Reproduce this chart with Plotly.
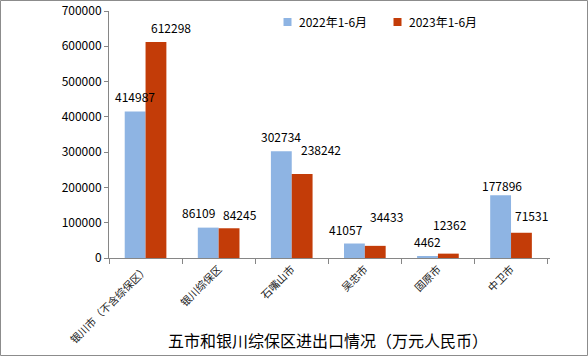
import plotly.graph_objects as go

categories = ["银川市（不含综保区）", "银川综保区", "石嘴山市", "吴忠市", "固原市", "中卫市"]
series_2022 = [414987, 86109, 302734, 41057, 4462, 177896]
series_2023 = [612298, 84245, 238242, 34433, 12362, 71531]
series_names = ["2022年1-6月", "2023年1-6月"]
y_ticks = [0, 100000, 200000, 300000, 400000, 500000, 600000, 700000]
title_text = "五市和银川综保区进出口情况（万元人民币）"

# label nudges (px) as placed in the original chart: (dx, dy above bar top)
nudge_2022 = [(0, 15), (-10, 15), (0, 15), (-8, 14), (0, 15), (1, 10)]
nudge_2023 = [(15, 14), (11, 14), (19, 24), (11, 29), (2, 29), (10, 17)]

FONT = "Noto Sans CJK SC, DejaVu Sans, sans-serif"
COLORS = ["#8EB4E3", "#C33C08"]

L, R, T, B = 109, 38, 11, 98
W, H = 588, 356
pw, ph = W - L - R, H - T - B
cat_w = pw / len(categories)
bar_w = cat_w * (1 - 0.43) / 2


def px_x(px):
    return (px - L) / pw


def px_y(py):
    return (T + ph - py) / ph


fig = go.Figure()
for name, vals, col in zip(series_names, [series_2022, series_2023], COLORS):
    fig.add_trace(go.Bar(
        x=categories, y=vals, name=name,
        marker=dict(color=col, line=dict(width=0)),
        hoverinfo="x+y+name",
    ))

annotations = []
for vals, nudges, side in [(series_2022, nudge_2022, -1), (series_2023, nudge_2023, 1)]:
    for cat, v, (dx, dy) in zip(categories, vals, nudges):
        annotations.append(dict(
            x=cat, y=v, xref="x", yref="y", text=str(v), showarrow=False,
            xanchor="center", yanchor="middle",
            xshift=side * bar_w / 2 + dx, yshift=dy,
            font=dict(size=12, family=FONT, color="#000000"),
        ))

annotations.append(dict(
    text=title_text, xref="paper", yref="paper",
    x=px_x(328), y=px_y(340), xanchor="center", yanchor="middle",
    showarrow=False, font=dict(size=16, family=FONT, color="#000000"),
))

# legend (drawn like the original: small squares + text)
legend_sq_left = [283.5, 393.5]
shapes = [dict(
    type="rect", xref="paper", yref="paper",
    x0=px_x(0.5), x1=px_x(W - 0.5), y0=px_y(H - 0.5), y1=px_y(0.5),
    line=dict(color="#8C8C8C", width=1), fillcolor="rgba(0,0,0,0)", layer="below",
)]
for name, col, sx in zip(series_names, COLORS, legend_sq_left):
    shapes.append(dict(
        type="rect", xref="paper", yref="paper",
        x0=px_x(sx), x1=px_x(sx + 8), y0=px_y(26), y1=px_y(18),
        line=dict(width=0), fillcolor=col,
    ))
    annotations.append(dict(
        text=name, xref="paper", yref="paper", x=px_x(sx + 13), y=px_y(22),
        xanchor="left", yanchor="middle", showarrow=False,
        font=dict(size=12, family=FONT, color="#000000"),
    ))

fig.update_layout(
    width=W, height=H,
    margin=dict(l=L, r=R, t=T, b=B, pad=0, autoexpand=False),
    paper_bgcolor="white", plot_bgcolor="white",
    barmode="group", bargap=0.43, bargroupgap=0,
    font=dict(family=FONT, size=12, color="#000000"),
    showlegend=False,
    xaxis=dict(
        showline=True, linecolor="#868686", linewidth=1,
        ticks="outside", tickson="boundaries", ticklen=5, tickcolor="#868686",
        tickangle=-45, tickfont=dict(size=10.5, family=FONT, color="#1a1a1a"),
        showgrid=False, automargin=False,
    ),
    yaxis=dict(
        range=[0, 700000], tickvals=y_ticks, ticktext=[str(v) for v in y_ticks],
        showline=True, linecolor="#868686", linewidth=1,
        ticks="outside", ticklen=4, tickcolor="#868686",
        showgrid=False, zeroline=False, automargin=False,
        tickfont=dict(size=12, family=FONT, color="#000000"),
    ),
    shapes=shapes,
    annotations=annotations,
)

fig.write_html(
    "out.html",
    config={"displayModeBar": False},
    post_script="document.body.style.margin='0';document.body.style.overflow='hidden';",
)
